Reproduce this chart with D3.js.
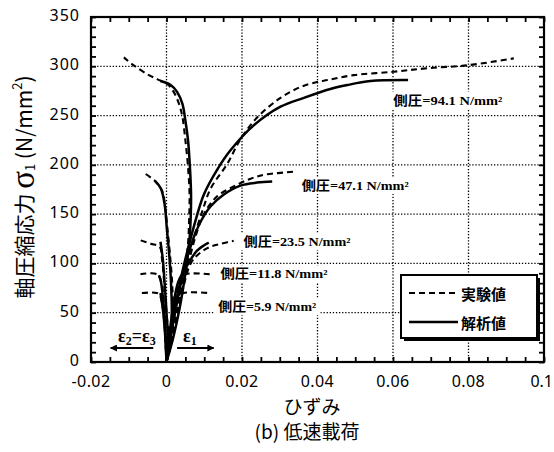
<!DOCTYPE html>
<html>
<head>
<meta charset="utf-8">
<script src="https://cdn.jsdelivr.net/npm/d3@7"></script>
<style>
  html, body { margin: 0; padding: 0; background: #fff; }
  svg { display: block; }
</style>
</head>
<body>
<svg id="chart" width="554" height="452"></svg>
<script>
// Axis ticks
const strainTicks = [-0.02, 0, 0.02, 0.04, 0.06, 0.08, 0.1];
const strainTickLabels = ["-0.02", "0", "0.02", "0.04", "0.06", "0.08", "0.1"];
const stressTicks = [0, 50, 100, 150, 200, 250, 300, 350];

// Confining pressures (N/mm²)
const confining = ["94.1", "47.1", "23.5", "11.8", "5.9"];

// Axial strain branches [strain, stress]
const exp941Axial = [[0,0],[0.0017,30],[0.0033,60],[0.005,93],[0.007,123],[0.0095,153],[0.0117,176],[0.0161,201],[0.0196,226],[0.024,248],[0.0302,268],[0.0355,279],[0.0399,284],[0.0426,286],[0.0496,291],[0.0602,294.5],[0.069,298],[0.0797,301],[0.092,308]];
const ana941Axial = [[0,0],[0.0012,28],[0.0025,56],[0.004,88],[0.0059,118],[0.0078,145],[0.0099,170],[0.0134,195],[0.017,215],[0.0231,240],[0.0302,259],[0.0364,268],[0.0434,277],[0.0479,281],[0.054,285],[0.064,286]];
const exp471Axial = [[0,0],[0.0018,35],[0.0035,65],[0.0055,95],[0.0075,125],[0.0099,150],[0.0134,168],[0.0178,178],[0.0223,186],[0.026,190],[0.0337,193]];
const ana471Axial = [[0,0],[0.0015,35],[0.003,65],[0.0047,95],[0.0068,122],[0.009,142],[0.0117,158],[0.0152,170],[0.0196,179],[0.024,182],[0.028,183]];
const exp235Axial = [[0,0],[0.002,40],[0.0042,72],[0.0064,100],[0.009,111],[0.0117,117],[0.0145,120],[0.0178,123]];
const ana235Axial = [[0,0],[0.0015,40],[0.003,70],[0.0047,92],[0.0064,104],[0.0081,113],[0.0098,118],[0.0112,121]];
const exp118Axial = [[0,0],[0.0012,35],[0.0025,65],[0.0035,84],[0.005,89],[0.0117,89]];
const ana118Axial = [[0,0],[0.001,35],[0.002,62],[0.003,80],[0.004,88],[0.005,90]];
const exp59Axial = [[0,0],[0.0012,30],[0.0025,55],[0.0035,67],[0.0045,70],[0.0111,70]];
const ana59Axial = [[0,0],[0.001,30],[0.002,55],[0.003,67],[0.004,71]];

// Lateral strain branches [strain, stress]
const exp941Lateral = [[0,0],[0.0017,25],[0.0033,55],[0.0048,90],[0.0057,120],[0.006,145],[0.0061,171],[0.0057,198],[0.005,225],[0.0042,249],[0.0033,262],[0.0019,274],[0.0002,282],[-0.0025,287],[-0.0051,292],[-0.0087,301],[-0.0113,309]];
const ana941Lateral = [[0,0],[0.0018,25],[0.0035,55],[0.005,90],[0.006,120],[0.0064,145],[0.0065,171],[0.0062,198],[0.0057,225],[0.005,245],[0.0042,262],[0.0028,274],[0.0011,281],[-0.0016,285]];
const exp471Lateral = [[0,0],[0.0012,25],[0.0017,47],[0.0015,80],[0.0009,110],[0.0003,133],[-0.0003,155],[-0.0011,173],[-0.0029,183],[-0.006,192]];
const ana471Lateral = [[0,0],[0.001,25],[0.0014,47],[0.0012,80],[0.0007,110],[0.0001,135],[-0.0005,160],[-0.0015,176],[-0.0031,184]];
const exp235Lateral = [[0,0],[0.0005,23],[0,50],[-0.0006,80],[-0.0012,105],[-0.0018,117],[-0.0042,120],[-0.0073,124]];
const ana235Lateral = [[0,0],[0.0004,23],[0,50],[-0.0005,80],[-0.001,105],[-0.0016,122]];
const exp118Lateral = [[0,0],[-0.0003,30],[-0.0008,60],[-0.0013,80],[-0.0025,89],[-0.0069,89]];
const ana118Lateral = [[0,0],[-0.0003,30],[-0.0008,60],[-0.0015,82],[-0.002,88]];
const exp59Lateral = [[0,0],[-0.0004,30],[-0.001,55],[-0.0018,68],[-0.0025,70],[-0.0066,70]];
const ana59Lateral = [[0,0],[-0.0004,30],[-0.001,55],[-0.0016,70]];

const expSeries = [exp941Axial, exp471Axial, exp235Axial, exp118Axial, exp59Axial,
                   exp941Lateral, exp471Lateral, exp235Lateral, exp118Lateral, exp59Lateral];
const anaSeries = [ana941Axial, ana471Axial, ana235Axial, ana118Axial, ana59Axial,
                   ana941Lateral, ana471Lateral, ana235Lateral, ana118Lateral, ana59Lateral];

const svg = d3.select("#chart");
const plotLeft = 91, plotRight = 544, plotTop = 17, plotBottom = 362;

const x = d3.scaleLinear().domain([-0.02, 0.1]).range([plotLeft, plotRight]);
const y = d3.scaleLinear().domain([0, 350]).range([plotBottom, plotTop]);

const minorX = d3.range(-0.02, 0.1001, 0.005);
const minorY = d3.range(0, 351, 10);

// dotted grid
const grid = svg.append("g").attr("stroke", "#000").attr("stroke-width", 1.3)
  .attr("stroke-dasharray", "1.3,1.8");
grid.selectAll(".gx").data(strainTicks.slice(1, -1)).join("line")
  .attr("x1", d => x(d)).attr("x2", d => x(d)).attr("y1", plotTop).attr("y2", plotBottom);
grid.selectAll(".gy").data(stressTicks.slice(1, -1)).join("line")
  .attr("y1", d => y(d)).attr("y2", d => y(d)).attr("x1", plotLeft).attr("x2", plotRight);

// curves
const line = d3.line().x(d => x(d[0])).y(d => y(d[1])).curve(d3.curveCatmullRom.alpha(0.5));
const curves = svg.append("g").attr("fill", "none").attr("stroke", "#000");
curves.selectAll(".exp").data(expSeries).join("path")
  .attr("d", line).attr("stroke-width", 2.1).attr("stroke-dasharray", "6,4");
curves.selectAll(".ana").data(anaSeries).join("path")
  .attr("d", line).attr("stroke-width", 2.5);

// confining pressure labels
const labelPos = [
  { s: confining[0], sx: 0.0601, sy: 265.5, w: 109 },
  { s: confining[1], sx: 0.0358, sy: 179, w: 107 },
  { s: confining[2], sx: 0.0204, sy: 122, w: 107 },
  { s: confining[3], sx: 0.0143, sy: 89.5, w: 107 },
  { s: confining[4], sx: 0.0137, sy: 56, w: 98 }
];
const lab = svg.append("g");
labelPos.forEach(p => {
  const g = lab.append("g");
  const bg = g.append("rect").attr("fill", "#fff");
  const t = g.append("text")
    .attr("x", x(p.sx)).attr("y", y(p.sy))
    .attr("dominant-baseline", "central")
    .attr("font-family", "'Liberation Serif', 'Noto Sans CJK JP', serif")
    .attr("font-weight", 700).attr("font-size", 13)
    .attr("textLength", p.w).attr("lengthAdjust", "spacingAndGlyphs")
    .text("側圧=" + p.s + " N/mm²");
  const b = t.node().getBBox();
  bg.attr("x", b.x - 4).attr("y", b.y - 1).attr("width", b.width + 8).attr("height", b.height + 2);
});

// frame and ticks (inward)
const axes = svg.append("g");
function inward(axisGen, transform, values, size) {
  axes.append("g").attr("transform", transform)
    .call(axisGen.tickValues(values).tickSize(-size).tickFormat(""))
    .call(g => g.select(".domain").remove())
    .call(g => g.selectAll("line").attr("stroke-width", 1.8));
}
inward(d3.axisBottom(x), `translate(0,${plotBottom})`, minorX, 5);
inward(d3.axisTop(x), `translate(0,${plotTop})`, minorX, 5);
inward(d3.axisLeft(y), `translate(${plotLeft},0)`, minorY, 5);
inward(d3.axisRight(y), `translate(${plotRight},0)`, minorY, 5);
axes.append("rect").attr("x", plotLeft).attr("y", plotTop)
  .attr("width", plotRight - plotLeft).attr("height", plotBottom - plotTop)
  .attr("fill", "none").attr("stroke", "#000").attr("stroke-width", 2.2);

// tick labels (the last one is kept inside the page edge)
const tickFont = "'Noto Sans', sans-serif";
const lastTick = strainTicks.length - 1;
svg.append("g").selectAll("text").data(strainTicks).join("text")
  .attr("x", (d, i) => i === lastTick ? 553 : x(d)).attr("y", 381)
  .attr("text-anchor", (d, i) => i === lastTick ? "end" : "middle").attr("dominant-baseline", "central")
  .attr("font-family", tickFont).attr("font-size", 16).attr("letter-spacing", (d, i) => i === lastTick ? 0 : 0.4)
  .text((d, i) => strainTickLabels[i]);
svg.append("g").selectAll("text").data(stressTicks).join("text")
  .attr("x", 80).attr("y", d => y(d) - 2).attr("text-anchor", "end").attr("dominant-baseline", "central")
  .attr("font-family", tickFont).attr("font-size", 16).attr("letter-spacing", 1)
  .text(d => d);

// axis titles
const yt = svg.append("text").attr("transform", "translate(23,187) rotate(-90)")
  .attr("text-anchor", "middle").attr("dominant-baseline", "central")
  .attr("font-family", "'Noto Sans CJK JP', sans-serif").attr("font-size", 21);
yt.append("tspan").text("軸圧縮応力 ");
yt.append("tspan").attr("font-family", "'Liberation Serif', serif").attr("font-size", 33).text("σ");
yt.append("tspan").attr("font-size", 13).attr("dy", 6).text("1");
yt.append("tspan").attr("dy", -6).text("  (N/mm");
yt.append("tspan").attr("font-size", 13).attr("dy", -7).text("2");
yt.append("tspan").attr("dy", 7).text(")");

svg.append("text").attr("x", 312).attr("y", 405).attr("text-anchor", "middle").attr("dominant-baseline", "central")
  .attr("font-family", "'Noto Sans CJK JP', sans-serif").attr("font-size", 19).text("ひずみ");
svg.append("text").attr("x", 307).attr("y", 430).attr("text-anchor", "middle").attr("dominant-baseline", "central")
  .attr("font-family", "'Noto Sans CJK JP', sans-serif").attr("font-size", 19).text("(b) 低速載荷");

// strain direction arrows
const defs = svg.append("defs");
defs.append("marker").attr("id", "arrow").attr("viewBox", "0 0 10 10").attr("refX", 9).attr("refY", 5)
  .attr("markerWidth", 11).attr("markerHeight", 7).attr("markerUnits", "userSpaceOnUse").attr("orient", "auto")
  .append("path").attr("d", "M0,0L10,5L0,10Z").attr("fill", "#000");
const arrows = svg.append("g").attr("stroke", "#000").attr("stroke-width", 2);
arrows.append("line").attr("x1", x(-0.0035)).attr("x2", x(-0.0148)).attr("y1", 348).attr("y2", 348).attr("marker-end", "url(#arrow)");
arrows.append("line").attr("x1", x(0.0028)).attr("x2", x(0.0125)).attr("y1", 348).attr("y2", 348).attr("marker-end", "url(#arrow)");
const epsFont = "'Liberation Serif', serif";
const e23 = svg.append("text").attr("x", 118).attr("y", 342).attr("font-family", epsFont)
  .attr("font-weight", 700).attr("font-size", 18);
e23.append("tspan").text("ε");
e23.append("tspan").attr("font-size", 12).attr("dy", 3).text("2");
e23.append("tspan").attr("dy", -3).text("=ε");
e23.append("tspan").attr("font-size", 12).attr("dy", 3).text("3");
const e1 = svg.append("text").attr("x", 183).attr("y", 342).attr("font-family", epsFont)
  .attr("font-weight", 700).attr("font-size", 18);
e1.append("tspan").text("ε");
e1.append("tspan").attr("font-size", 12).attr("dy", 3).text("1");

// legend
const lg = svg.append("g");
lg.append("rect").attr("x", 404).attr("y", 278).attr("width", 136).attr("height", 63).attr("fill", "#000");
lg.append("rect").attr("x", 401).attr("y", 275).attr("width", 136).attr("height", 63)
  .attr("fill", "#fff").attr("stroke", "#000").attr("stroke-width", 2);
lg.append("line").attr("x1", 409).attr("x2", 459).attr("y1", 293).attr("y2", 293)
  .attr("stroke", "#000").attr("stroke-width", 2.1).attr("stroke-dasharray", "6,4");
lg.append("line").attr("x1", 409).attr("x2", 458).attr("y1", 322).attr("y2", 322)
  .attr("stroke", "#000").attr("stroke-width", 2.5);
const legFont = "'Noto Sans CJK JP', sans-serif";
lg.append("text").attr("x", 461).attr("y", 293).attr("dominant-baseline", "central")
  .attr("font-family", legFont).attr("font-weight", 700).attr("font-size", 15).text("実験値");
lg.append("text").attr("x", 461).attr("y", 322).attr("dominant-baseline", "central")
  .attr("font-family", legFont).attr("font-weight", 700).attr("font-size", 15).text("解析値");
</script>
</body>
</html>
